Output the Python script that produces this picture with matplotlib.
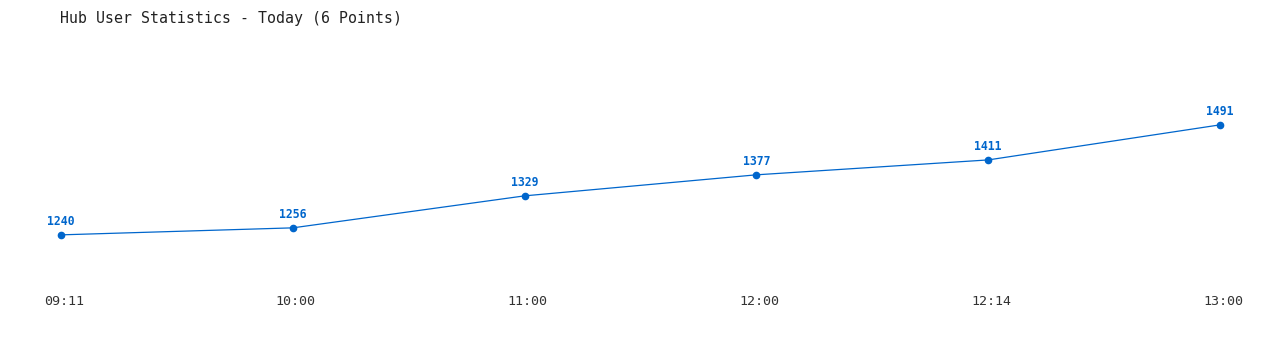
import matplotlib.pyplot as plt
from matplotlib.transforms import ScaledTranslation

times = ["09:11", "10:00", "11:00", "12:00", "12:14", "13:00"]
users = [1240, 1256, 1329, 1377, 1411, 1491]

line_color = "#0066cc"

fig = plt.figure(figsize=(12.8, 3.5), dpi=100)
ax = fig.add_axes([61 / 1280, 70 / 350, (1220 - 61) / 1280, 220 / 350])

x = list(range(len(times)))
ax.plot(x, users, color=line_color, linewidth=0.9, marker="o", markersize=4.5,
        clip_on=False)
for xi, v in zip(x, users):
    ax.annotate(str(v), (xi, v), xytext=(0, 5), textcoords="offset points",
                ha="center", va="bottom", color=line_color, fontsize=8.3,
                fontweight="bold", family="DejaVu Sans Mono")

ax.set_xticks(x)
ax.set_xticklabels(times, family="DejaVu Sans Mono", fontsize=9.6, color="#333333")
ax.set_xlim(0, len(times) - 1)
ax.set_ylim(1137, 1639)
ax.tick_params(axis="x", length=0, pad=11)
shift = ScaledTranslation(3 / 100, 0, fig.dpi_scale_trans)
for lbl in ax.get_xticklabels():
    lbl.set_transform(lbl.get_transform() + shift)
ax.set_yticks([])
for s in ax.spines.values():
    s.set_visible(False)
ax.patch.set_alpha(0)

fig.text(60 / 1280, 1 - 18 / 350, "Hub User Statistics - Today (6 Points)",
         ha="left", va="center", family="DejaVu Sans Mono", fontsize=10.7,
         color="#222222")

fig.savefig("out.png", dpi=100, facecolor="white")
